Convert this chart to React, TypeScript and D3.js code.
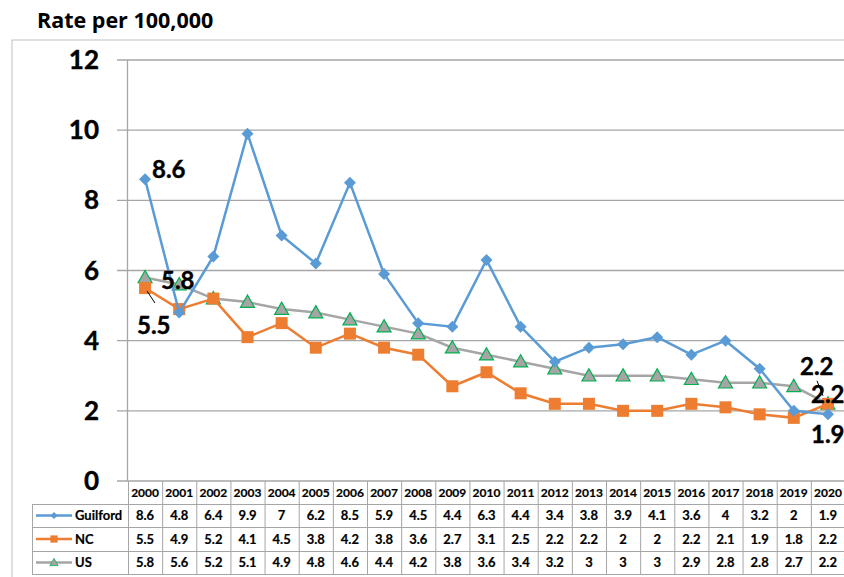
import * as d3 from 'd3';

const years = ['2000','2001','2002','2003','2004','2005','2006','2007','2008','2009','2010','2011','2012','2013','2014','2015','2016','2017','2018','2019','2020'];
const guilford = [8.6, 4.8, 6.4, 9.9, 7, 6.2, 8.5, 5.9, 4.5, 4.4, 6.3, 4.4, 3.4, 3.8, 3.9, 4.1, 3.6, 4, 3.2, 2, 1.9];
const nc = [5.5, 4.9, 5.2, 4.1, 4.5, 3.8, 4.2, 3.8, 3.6, 2.7, 3.1, 2.5, 2.2, 2.2, 2, 2, 2.2, 2.1, 1.9, 1.8, 2.2];
const us = [5.8, 5.6, 5.2, 5.1, 4.9, 4.8, 4.6, 4.4, 4.2, 3.8, 3.6, 3.4, 3.2, 3, 3, 3, 2.9, 2.8, 2.8, 2.7, 2.2];
const yTicks = [0, 2, 4, 6, 8, 10, 12];

const series = [
  { name: 'Guilford', values: guilford, color: '#5B9BD5', marker: 'diamond' },
  { name: 'NC', values: nc, color: '#ED7D31', marker: 'square' },
  { name: 'US', values: us, color: '#A5A5A5', marker: 'triangle' },
];

const FONT = 'Lato, "Open Sans", sans-serif';

function Marker({ type, x, y, color }: { type: string; x: number; y: number; color: string }) {
  if (type === 'diamond') {
    const s = 6;
    return <path d={`M${x},${y - s}L${x + s},${y}L${x},${y + s}L${x - s},${y}Z`} fill={color} />;
  }
  if (type === 'square') {
    return <rect x={x - 6} y={y - 6} width={12} height={12} fill={color} />;
  }
  const s = 7;
  return <path d={`M${x},${y - s}L${x + s},${y + s * 0.75}L${x - s},${y + s * 0.75}Z`} fill="#A5A5A5" stroke="#00B050" strokeWidth={1.2} />;
}

export default function App() {
  const W = 844, H = 577;
  const x = d3.scaleBand<string>().domain(years).range([128, 845]);
  const y = d3.scaleLinear().domain([0, 12]).range([481, 60]);
  const cx = (yr: string) => (x(yr) as number) + x.bandwidth() / 2;
  const line = d3.line<number>().x((_, i) => cx(years[i])).y(d => y(d));

  const rowLines = [504, 527, 551, 574];
  const rowMid = [515.5, 539, 562.5];

  return (
    <svg width={W} height={H} style={{ position: 'absolute', left: 0, top: 0, background: '#fff' }}>
      <text x={37} y={28} fontFamily='"Open Sans", sans-serif' fontWeight={700} fontSize={21.5} fill="#000">Rate per 100,000</text>
      <rect x={12} y={40} width={900} height={600} fill="none" stroke="#BFBFBF" strokeWidth={1} />

      {yTicks.map(t => (
        <g key={t}>
          <line x1={117} x2={845} y1={y(t)} y2={y(t)} stroke="#A6A6A6" strokeWidth={1.3} />
          <text x={99} y={y(t)} dy="0.35em" textAnchor="end" fontFamily={FONT} fontWeight={700} fontSize={26} stroke="#000" strokeWidth={0.4}>{t}</text>
        </g>
      ))}
      <line x1={127.5} x2={127.5} y1={60} y2={481} stroke="#A6A6A6" strokeWidth={1.3} />

      {/* table */}
      {years.map(yr => (
        <line key={yr} x1={(x(yr) as number) + 0.5} x2={(x(yr) as number) + 0.5} y1={481} y2={574} stroke="#A6A6A6" />
      ))}
      <line x1={32.5} x2={32.5} y1={504} y2={574} stroke="#A6A6A6" />
      {rowLines.map(r => (
        <line key={r} x1={32} x2={845} y1={r + 0.5} y2={r + 0.5} stroke="#A6A6A6" />
      ))}
      {years.map(yr => (
        <text key={yr} x={cx(yr)} y={493} dy="0.35em" textAnchor="middle" fontFamily={FONT} fontWeight={700} fontSize={12} stroke="#000" strokeWidth={0.2}>{yr}</text>
      ))}
      {series.map((s, si) => (
        <g key={s.name}>
          <line x1={36} x2={72} y1={rowMid[si]} y2={rowMid[si]} stroke={s.color} strokeWidth={2.5} />
          <g transform={`translate(${54},${rowMid[si]}) scale(0.6) translate(-54,${-rowMid[si]})`}>
            <Marker type={s.marker} x={54} y={rowMid[si]} color={s.color} />
          </g>
          <text x={75} y={rowMid[si]} dy="0.35em" fontFamily={FONT} fontWeight={700} fontSize={13} stroke="#000" strokeWidth={0.2}>{s.name}</text>
          {s.values.map((v, i) => (
            <text key={i} x={cx(years[i])} y={rowMid[si]} dy="0.35em" textAnchor="middle" fontFamily={FONT} fontWeight={700} fontSize={13} stroke="#000" strokeWidth={0.2}>{v}</text>
          ))}
        </g>
      ))}

      {/* lines */}
      {[...series].reverse().map(s => (
        <g key={s.name}>
          <path d={line(s.values) || ''} fill="none" stroke={s.color} strokeWidth={2.5} />
          {s.values.map((v, i) => (
            <Marker key={i} type={s.marker} x={cx(years[i])} y={y(v)} color={s.color} />
          ))}
        </g>
      ))}

      {/* data labels */}
      <g fontFamily={FONT} fontWeight={700} fontSize={24} fill="#000" stroke="#000" strokeWidth={0.4}>
        <text x={152} y={y(guilford[0]) - 1}>{guilford[0]}</text>
        <text x={161} y={y(us[0]) + 11}>{us[0]}</text>
        <text x={137} y={y(nc[0]) + 46}>{nc[0]}</text>
        <line x1={147} y1={y(nc[0]) + 3} x2={155} y2={y(nc[0]) + 15} strokeWidth={1} />
        <text x={800} y={y(us[20]) - 29}>{us[20]}</text>
        <text x={811} y={y(nc[20]) - 1}>{nc[20]}</text>
        <line x1={817} y1={y(nc[20]) - 23} x2={823} y2={y(nc[20]) - 8} strokeWidth={1} />
        <text x={811} y={y(guilford[20]) + 29}>{guilford[20]}</text>
      </g>
    </svg>
  );
}
